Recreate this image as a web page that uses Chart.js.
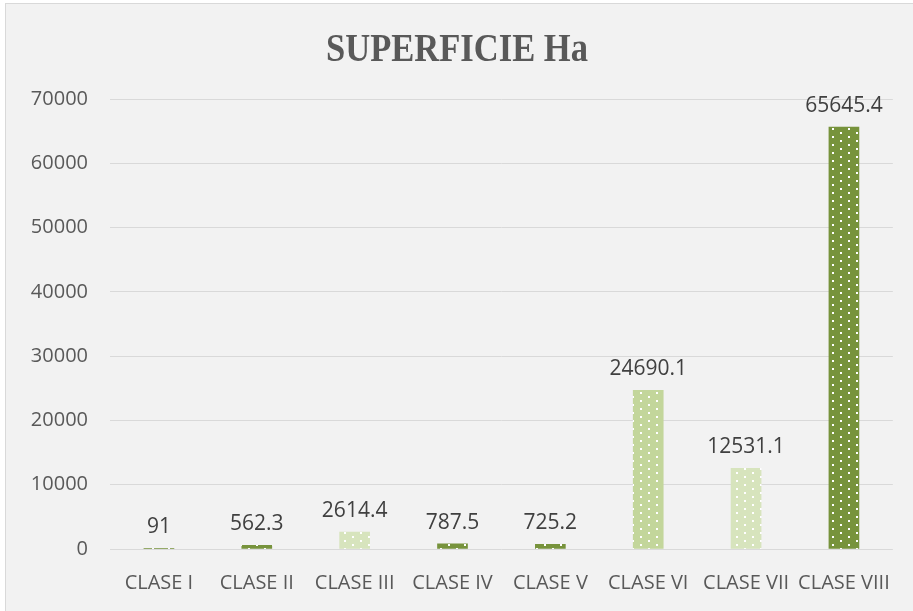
<!DOCTYPE html>
<html>
<head>
<meta charset="utf-8">
<script src="https://cdn.jsdelivr.net/npm/chart.js@4.4.0/dist/chart.umd.min.js"></script>
<style>
  html, body { margin: 0; padding: 0; background: #fff; }
  #wrap { width: 913px; height: 611px; }
</style>
</head>
<body>
<div id="wrap"><canvas id="chart" width="913" height="611"></canvas></div>
<script>
// data
var categories = ['CLASE I', 'CLASE II', 'CLASE III', 'CLASE IV', 'CLASE V', 'CLASE VI', 'CLASE VII', 'CLASE VIII'];
var superficie = [91, 562.3, 2614.4, 787.5, 725.2, 24690.1, 12531.1, 65645.4];
var labels = ['91', '562.3', '2614.4', '787.5', '725.2', '24690.1', '12531.1', '65645.4'];
var yTicks = [0, 10000, 20000, 30000, 40000, 50000, 60000, 70000];
var shade = ['dark', 'dark', 'pale', 'dark', 'dark', 'light', 'pale', 'dark'];

var colours = { dark: '#77933c', light: '#c3d69b', pale: '#d7e4bd' };

// dotted fill like the excel pattern
function dots(col) {
  var c = document.createElement('canvas');
  c.width = 16; c.height = 8;
  var g = c.getContext('2d');
  g.fillStyle = col;
  g.fillRect(0, 0, 16, 8);
  g.fillStyle = '#ffffff';
  g.fillRect(0, 0, 2, 2);
  g.fillRect(8, 4, 2, 2);
  return g.createPattern(c, 'repeat');
}

var fills = shade.map(function (s) { return dots(colours[s]); });

const frame = {
  id: 'frame',
  beforeDraw: function (chart) {
    var ctx = chart.ctx;
    ctx.save();
    ctx.fillStyle = '#ffffff';
    ctx.fillRect(0, 0, chart.width, chart.height);
    ctx.fillStyle = '#f2f2f2';
    ctx.fillRect(5, 3, chart.width, chart.height);
    ctx.strokeStyle = '#d9d9d9';
    ctx.lineWidth = 1;
    ctx.strokeRect(5.5, 3.5, chart.width + 10, chart.height + 10);

    // title, squeezed a little like the original
    ctx.font = 'bold 41px "Liberation Serif"';
    ctx.fillStyle = '#595959';
    ctx.textAlign = 'center';
    ctx.textBaseline = 'alphabetic';
    var txt = 'SUPERFICIE Ha';
    var w = ctx.measureText(txt).width;
    var sx = 262 / w;
    ctx.translate(457, 61);
    ctx.scale(sx, 1);
    ctx.fillText(txt, 0, 0);
    ctx.restore();
  },
  afterDatasetsDraw: function (chart) {
    var ctx = chart.ctx;
    var meta = chart.getDatasetMeta(0);
    ctx.save();
    ctx.font = '21px "Open Sans"';
    ctx.fillStyle = '#404040';
    ctx.textAlign = 'center';
    ctx.textBaseline = 'alphabetic';
    meta.data.forEach(function (bar, i) {
      ctx.fillText(labels[i], bar.x, bar.y - 15);
    });
    ctx.restore();
  }
};

const myChart = new Chart('chart', {
  type: 'bar',
  data: {
    labels: categories,
    datasets: [{
      label: 'SUPERFICIE Ha',
      data: superficie,
      backgroundColor: fills,
      borderWidth: 0,
      barThickness: 30
    }]
  },
  options: {
    responsive: false,
    animation: false,
    layout: { padding: { top: 99, right: 20, left: 0, bottom: 0 } },
    plugins: {
      legend: { display: false },
      tooltip: { enabled: false }
    },
    scales: {
      x: {
        grid: { display: false, drawTicks: false },
        border: { display: false },
        ticks: { color: '#595959', font: { family: 'Open Sans', size: 20 }, padding: 22, maxRotation: 0, autoSkip: false },
        afterFit: function (s) { s.height = 62; }
      },
      y: {
        min: 0,
        max: 70000,
        afterBuildTicks: function (s) { s.ticks = yTicks.map(function (v) { return { value: v }; }); },
        grid: { color: '#d9d9d9', lineWidth: 1, drawTicks: false },
        border: { display: false },
        ticks: {
          color: '#595959',
          font: { family: 'Open Sans', size: 20 },
          padding: 22,
          callback: function (v) { return String(v); }
        },
        afterFit: function (s) { s.width = 110; }
      }
    }
  },
  plugins: [frame]
});
</script>
</body>
</html>
